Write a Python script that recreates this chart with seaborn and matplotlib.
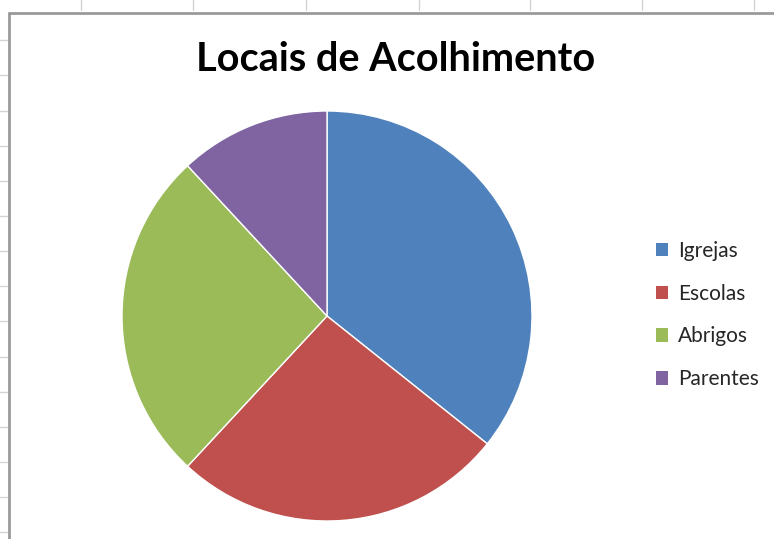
import matplotlib.pyplot as plt
import seaborn as sns
from matplotlib.patches import Patch
from matplotlib.lines import Line2D

locais = ["Igrejas", "Escolas", "Abrigos", "Parentes"]
valores = [15, 11, 11, 5]
cores = ["#4F81BD", "#C0504D", "#9BBB59", "#8064A2"]

sns.set_theme(style="white")
plt.rcParams["font.family"] = ["Lato", "DejaVu Sans"]

W, H = 774, 539
fig = plt.figure(figsize=(W / 100, H / 100), dpi=100)
fig.patch.set_facecolor("white")

# spreadsheet frame and gridline stubs
fx = lambda px: px / W
fy = lambda py: 1 - py / H
for x in [81, 193, 306, 419, 530, 642, 754]:
    fig.add_artist(Line2D([fx(x), fx(x)], [fy(0), fy(10)], color="#d4d4d4", lw=1))
for y in [40, 75, 111, 146, 181, 216, 251, 286, 321, 357, 392, 427, 462, 497, 532]:
    fig.add_artist(Line2D([fx(0), fx(7)], [fy(y), fy(y)], color="#d4d4d4", lw=1))
fig.add_artist(Line2D([fx(9), fx(9)], [fy(13), 0], color="#9a9a9a", lw=2))
fig.add_artist(Line2D([fx(9), 1], [fy(13), fy(13)], color="#9a9a9a", lw=2))

# pie
cx, cy, r = 327, 316, 205
ax = fig.add_axes([fx(cx - r), fy(cy + r), 2 * r / W, 2 * r / H])
wedges, _ = ax.pie(
    valores,
    colors=cores,
    startangle=90,
    counterclock=False,
    radius=1,
    wedgeprops={"edgecolor": "white", "linewidth": 1},
)
ax.set_xlim(-1, 1)
ax.set_ylim(-1, 1)
ax.axis("off")

fig.text(fx(396), fy(60), "Locais de Acolhimento", ha="center", va="center",
         fontsize=28.5, fontweight="bold", color="black")

handles = [Patch(facecolor=c, edgecolor="none") for c in cores]
fig.legend(
    handles, locais,
    loc="center left",
    bbox_to_anchor=(fx(637), fy(315)),
    frameon=False,
    fontsize=15,
    handlelength=0.6,
    handleheight=0.6,
    handletextpad=0.45,
    labelspacing=1.1,
)

fig.savefig("out.png", dpi=100)
